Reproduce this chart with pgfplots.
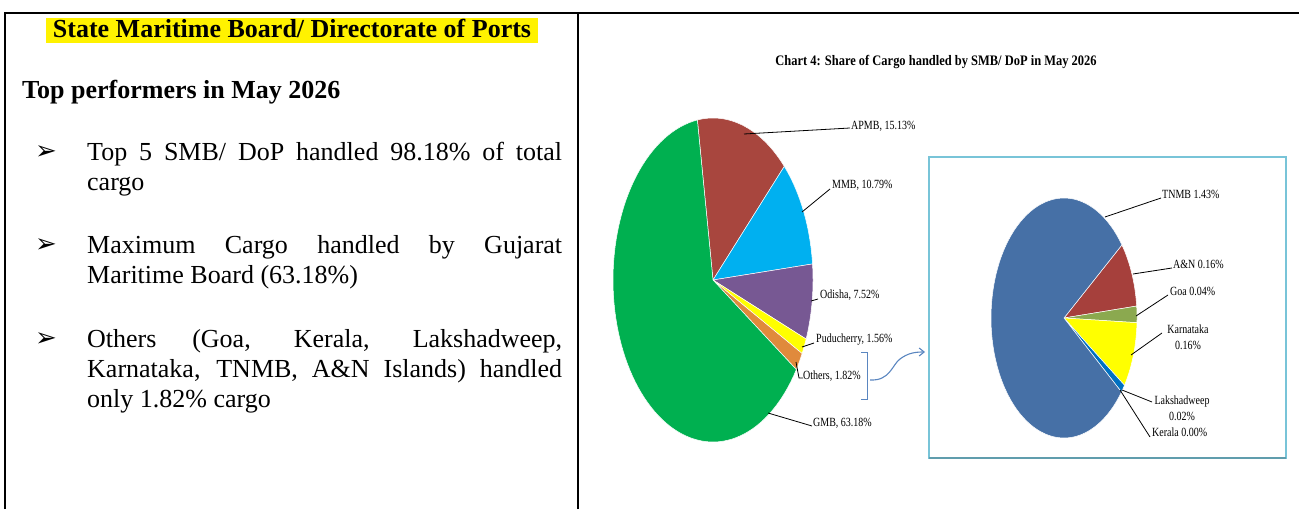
\documentclass[border=0pt]{standalone}
\usepackage{pgfplots}
\pgfplotsset{compat=1.18}
\usetikzlibrary{arrows.meta}
\usepackage{fontspec}
\setmainfont{Liberation Serif}
\newfontfamily\dejavu{DejaVu Sans}
\newfontfamily\chartfont[FakeStretch=0.8]{Liberation Serif}
\newfontfamily\titlefont[FakeStretch=0.86]{Liberation Serif}

\definecolor{gmb}{HTML}{00B050}
\definecolor{apmb}{HTML}{A8463E}
\definecolor{mmb}{HTML}{00B0F0}
\definecolor{odisha}{HTML}{775893}
\definecolor{pudu}{HTML}{FFFF00}
\definecolor{others}{HTML}{E08A3C}
\definecolor{tnmb}{HTML}{4670A6}
\definecolor{andn}{HTML}{A6403C}
\definecolor{goa}{HTML}{8BA94F}
\definecolor{karn}{HTML}{FFFF00}
\definecolor{laksh}{HTML}{0070C0}
\definecolor{kerala}{HTML}{7F7F7F}
\definecolor{boxblue}{HTML}{78C4D8}
\definecolor{arrowblue}{HTML}{5A86C0}

% pie helpers: total, start offset (deg clockwise from 12 o'clock)
\newcommand\startpie[2]{\xdef\cum{0}\xdef\tot{#1}\xdef\pieoff{#2}}
\newcommand\pieslice[2]{%
  \ifdim #1pt>0pt
    \pgfmathsetmacro\ta{90-\pieoff-(\cum+#1)/\tot*360}%
    \pgfmathsetmacro\tb{90-\pieoff-\cum/\tot*360}%
    \edef\doslice{\noexpand\addplot[fill=#2, draw=white, line width=0.5pt,
      domain=\ta:\tb, samples=90, variable=\noexpand\t]
      ({cos(\noexpand\t)},{sin(\noexpand\t)}) -- (axis cs:0,0) -- cycle;}%
    \doslice
  \fi
  \pgfmathparse{\cum+#1}\xdef\cum{\pgfmathresult}%
}

\begin{document}
\begin{tikzpicture}[x=1pt,y=1pt]
\useasboundingbox (0,0) rectangle (1299,509);

% frame
\draw[line width=2pt] (5,0) -- (5,496) -- (1299,496);
\draw[line width=2pt] (578,0) -- (578,496);

% left column
\fill[yellow] (46,466) rectangle (538,491);
\node[anchor=base, inner sep=0, font=\bfseries\fontsize{26}{30}\selectfont] at (292,471)
  {State Maritime Board/ Directorate of Ports};
\node[anchor=base west, inner sep=0, font=\bfseries\fontsize{26}{30}\selectfont] at (22,410)
  {Top performers in May 2026};

\foreach \yy in {348,255,161}
  \node[anchor=base west, inner sep=0] at (35,\yy+1) {\dejavu\fontsize{26}{26}\selectfont ➢};

\node[anchor=base west, inner sep=0] at (87,348) {\parbox[t]{475pt}{\fontsize{26}{30}\selectfont
  Top 5 SMB/ DoP handled 98.18\% of total\linebreak cargo}};
\node[anchor=base west, inner sep=0] at (87,255) {\parbox[t]{475pt}{\fontsize{26}{30}\selectfont
  Maximum Cargo handled by Gujarat\linebreak Maritime Board (63.18\%)}};
\node[anchor=base west, inner sep=0] at (87,161) {\parbox[t]{475pt}{\fontsize{26}{30}\selectfont
  Others (Goa, Kerala, Lakshadweep,\linebreak Karnataka, TNMB, A\&N Islands) handled\linebreak only 1.82\% cargo}};

% chart title
\node[anchor=center, inner sep=0] at (936,447)
  {\titlefont\bfseries\fontsize{14.5}{16}\selectfont Chart 4: Share of Cargo handled by SMB/ DoP in May 2026};

% main pie
\begin{axis}[at={(713pt,229pt)}, anchor=center, scale only axis,
  width=200pt, height=324pt, xmin=-1, xmax=1, ymin=-1, ymax=1,
  hide axis, clip=false]
\startpie{100}{-9}
\pieslice{15.13}{apmb}
\pieslice{10.79}{mmb}
\pieslice{7.52}{odisha}
\pieslice{1.56}{pudu}
\pieslice{1.82}{others}
\pieslice{63.18}{gmb}
\end{axis}

% breakdown pie
\draw[boxblue, line width=1.5pt] (929,51) rectangle (1286,352);
\draw[boxblue!80!black, line width=1.2pt] (929,51) -- (1286,51);
\begin{axis}[at={(1064pt,191pt)}, anchor=center, scale only axis,
  width=146pt, height=240pt, xmin=-1, xmax=1, ymin=-1, ymax=1,
  hide axis, clip=false]
\startpie{1.81}{52.5}
\pieslice{0.16}{andn}
\pieslice{0.04}{goa}
\pieslice{0.16}{karn}
\pieslice{0.02}{laksh}
\pieslice{0.00}{kerala}
\pieslice{1.43}{tnmb}
\end{axis}

% leader lines and labels
\begin{scope}[line width=0.8pt]
\draw (744,375) -- (850,381);
\draw (802,297) -- (830,320);
\draw (811,208) -- (818,210);
\draw (802,162) -- (814,166);
\draw (796,147) -- (799,131) -- (803,131);
\draw (768,96) -- (812,83);
\draw (1105,292) -- (1161,311);
\draw (1133,235) -- (1172,241);
\draw (1136,193) -- (1168,214);
\draw (1131,154) -- (1162,176);
\draw (1122,119) -- (1152,107);
\draw (1120,119) -- (1150,72);
\end{scope}

\begin{scope}[every node/.style={inner sep=0, font=\chartfont\fontsize{12.5}{14}\selectfont}]
\node[anchor=west] at (851,383) {APMB, 15.13\%};
\node[anchor=west] at (832,324) {MMB, 10.79\%};
\node[anchor=west] at (820,214) {Odisha, 7.52\%};
\node[anchor=west] at (816,169) {Puducherry, 1.56\%};
\node[anchor=west] at (803,133) {Others, 1.82\%};
\node[anchor=west] at (813,86) {GMB, 63.18\%};
\node[anchor=west] at (1162,315) {TNMB 1.43\%};
\node[anchor=west] at (1173,245) {A\&N 0.16\%};
\node[anchor=west] at (1170,218) {Goa 0.04\%};
\node[align=center] at (1188,172) {Karnataka\\[2pt]0.16\%};
\node[align=center] at (1182,101) {Lakshadweep\\[2pt]0.02\%};
\node[anchor=west] at (1152,77) {Kerala 0.00\%};
\end{scope}

% bracket and arrow
\draw[arrowblue, line width=1pt] (861,156) -- (867,156) -- (867,109) -- (861,109);
\draw[arrowblue, line width=1.1pt, -{Straight Barb[length=5pt,width=8pt]}]
  (870,129) .. controls (890,128) and (892,144) .. (900,150) .. controls (908,156) and (915,157) .. (925,157);

\end{tikzpicture}
\end{document}
